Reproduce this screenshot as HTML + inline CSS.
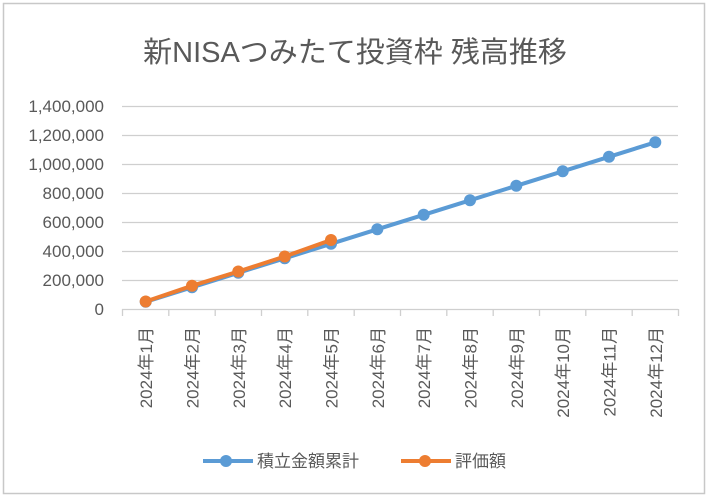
<!DOCTYPE html>
<html><head><meta charset="utf-8"><style>
html,body{margin:0;padding:0;background:#fff;}
svg{display:block;font-family:"Liberation Sans","Noto Sans CJK JP",sans-serif;}
</style></head><body>
<svg width="708" height="496" viewBox="0 0 708 496">
<rect x="3.5" y="3.5" width="701" height="490" fill="#fff" stroke="#c8c8c8" stroke-width="1.5"/>
<text x="355" y="62" text-anchor="middle" font-size="29" fill="#595959">新NISAつみたて投資枠 残高推移</text>
<g stroke="#cfcfcf" stroke-width="1.3">
<line x1="122" x2="678" y1="106.5" y2="106.5"/>
<line x1="122" x2="678" y1="135.5" y2="135.5"/>
<line x1="122" x2="678" y1="164.5" y2="164.5"/>
<line x1="122" x2="678" y1="193.5" y2="193.5"/>
<line x1="122" x2="678" y1="222.5" y2="222.5"/>
<line x1="122" x2="678" y1="251.5" y2="251.5"/>
<line x1="122" x2="678" y1="280.5" y2="280.5"/>
<line x1="122" x2="678" y1="309.5" y2="309.5"/>
<path d="M122.5 309v7M168.8 309v7M215.2 309v7M261.5 309v7M307.8 309v7M354.2 309v7M400.5 309v7M446.8 309v7M493.2 309v7M539.5 309v7M585.8 309v7M632.2 309v7M678.5 309v7"/>
</g>
<g font-size="17" fill="#595959" text-anchor="end">
<text x="104" y="112">1,400,000</text>
<text x="104" y="141">1,200,000</text>
<text x="104" y="170">1,000,000</text>
<text x="104" y="199">800,000</text>
<text x="104" y="228">600,000</text>
<text x="104" y="257">400,000</text>
<text x="104" y="286">200,000</text>
<text x="104" y="315">0</text>
</g>
<g font-size="17" fill="#595959" text-anchor="end">
<text transform="translate(152,327) rotate(-90)">2024年1月</text>
<text transform="translate(198.5,327) rotate(-90)">2024年2月</text>
<text transform="translate(245,327) rotate(-90)">2024年3月</text>
<text transform="translate(291,327) rotate(-90)">2024年4月</text>
<text transform="translate(337.5,327) rotate(-90)">2024年5月</text>
<text transform="translate(384,327) rotate(-90)">2024年6月</text>
<text transform="translate(430,327) rotate(-90)">2024年7月</text>
<text transform="translate(476.5,327) rotate(-90)">2024年8月</text>
<text transform="translate(523,327) rotate(-90)">2024年9月</text>
<text transform="translate(569,327) rotate(-90)">2024年10月</text>
<text transform="translate(615.5,327) rotate(-90)">2024年11月</text>
<text transform="translate(662,327) rotate(-90)">2024年12月</text>
</g>
<g fill="#5b9bd5" stroke="#5b9bd5" stroke-width="4" stroke-linejoin="round">
<polyline fill="none" points="145.7,301.8 192,287.3 238.3,272.8 284.7,258.3 331,243.8 377.3,229.3 423.7,214.8 470,200.3 516.3,185.8 562.7,171.3 609,156.8 655.3,142.3"/>
<g stroke="none">
<circle cx="145.7" cy="301.8" r="6"/><circle cx="192" cy="287.3" r="6"/><circle cx="238.3" cy="272.8" r="6"/><circle cx="284.7" cy="258.3" r="6"/><circle cx="331" cy="243.8" r="6"/><circle cx="377.3" cy="229.3" r="6"/><circle cx="423.7" cy="214.8" r="6"/><circle cx="470" cy="200.3" r="6"/><circle cx="516.3" cy="185.8" r="6"/><circle cx="562.7" cy="171.3" r="6"/><circle cx="609" cy="156.8" r="6"/><circle cx="655.3" cy="142.3" r="6"/>
</g></g>
<g fill="#ed7d31" stroke="#ed7d31" stroke-width="4" stroke-linejoin="round">
<polyline fill="none" points="145.7,301.5 192,285.8 238.3,271.5 284.7,256.5 331,240"/>
<g stroke="none">
<circle cx="145.7" cy="301.5" r="6"/><circle cx="192" cy="285.8" r="6"/><circle cx="238.3" cy="271.5" r="6"/><circle cx="284.7" cy="256.5" r="6"/><circle cx="331" cy="240" r="6"/>
</g></g>
<g>
<line x1="203" x2="253" y1="461" y2="461" stroke="#5b9bd5" stroke-width="4"/>
<circle cx="226" cy="461" r="6" fill="#5b9bd5"/>
<text x="257" y="467" font-size="17" fill="#595959">積立金額累計</text>
<line x1="401" x2="451" y1="461" y2="461" stroke="#ed7d31" stroke-width="4"/>
<circle cx="425" cy="461" r="6" fill="#ed7d31"/>
<text x="455" y="467" font-size="17" fill="#595959">評価額</text>
</g>
</svg>
</body></html>
